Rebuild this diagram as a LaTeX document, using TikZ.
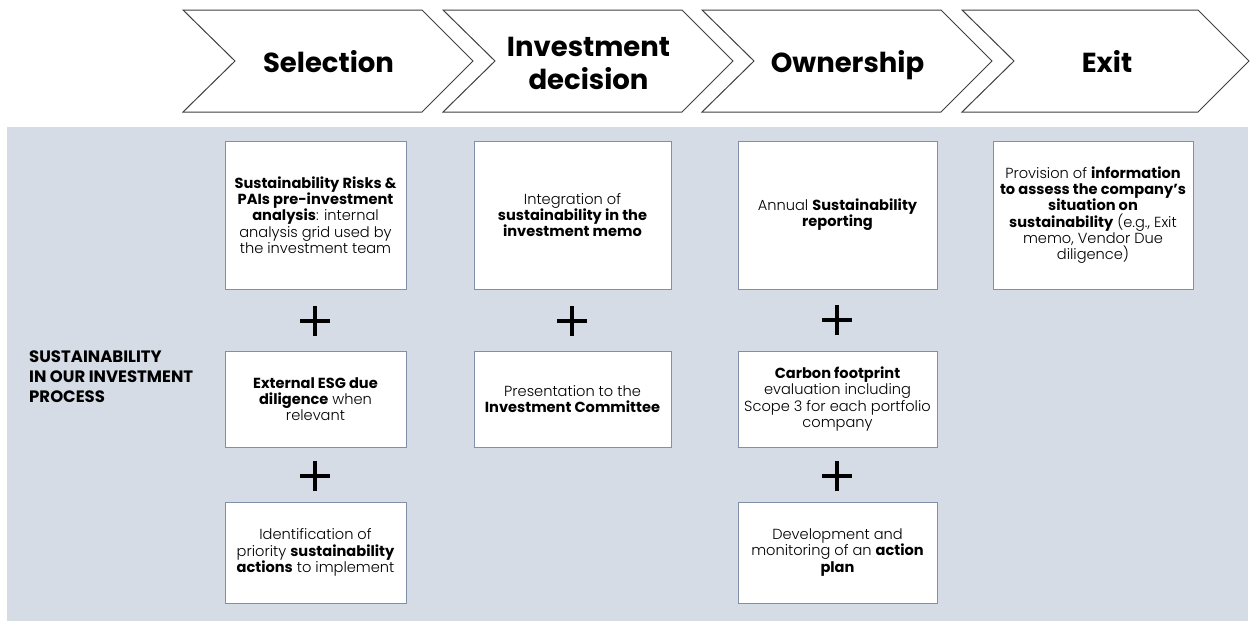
\documentclass[tikz,border=0pt]{standalone}
\usepackage{fontspec}
\setmainfont{Poppins}[UprightFont={* Light}, BoldFont={* Bold}]
\definecolor{panel}{HTML}{D6DCE5}
\definecolor{boxline}{HTML}{8090A8}
\definecolor{chevline}{HTML}{404040}
\begin{document}
\begin{tikzpicture}[x=1pt,y=-1pt,
  chev/.style={draw=chevline, fill=white, line width=1pt, line join=miter},
  ctitle/.style={font=\fontsize{27.5}{33}\selectfont\bfseries, align=center, inner sep=0pt, text depth=0pt},
  box/.style={draw=boxline, fill=white, line width=1pt, inner sep=0pt,
    font=\fontsize{14.6}{16.3}\selectfont, align=center},
  plusline/.style={line width=3.2pt, draw=black},
  sidelabel/.style={font=\fontsize{16.5}{20}\selectfont\bfseries, align=left, inner sep=0pt, anchor=west}
]
\useasboundingbox (0,0) rectangle (1250,621);
\fill[panel] (7,127) rectangle (1248,621);

% chevrons
\draw[chev] (183,10) -- (422,10) -- (473,61) -- (422,112) -- (183,112) -- (235,61) -- cycle;
\draw[chev] (443,10) -- (682,10) -- (733,61) -- (682,112) -- (443,112) -- (495,61) -- cycle;
\draw[chev] (702,10) -- (941,10) -- (992,61) -- (941,112) -- (702,112) -- (754,61) -- cycle;
\draw[chev] (962,10) -- (1198,10) -- (1249,61) -- (1198,112) -- (962,112) -- (1014,61) -- cycle;
\node[ctitle] (t1) at (328.5,61) {Selection};
\node[ctitle] (t2) at (588.5,63) {Investment\\decision};
\node[ctitle] (t3) at (847.5,61) {Ownership};
\node[ctitle] (t4) at (1107,61) {Exit};

% side label
\node[sidelabel] (side) at (29,377) {SUSTAINABILITY\\IN OUR INVESTMENT\\PROCESS};

% column 1
\node[box, minimum width=181pt, minimum height=148pt] (a1) at (315.5,215)
  {\textbf{Sustainability Risks \&}\\\textbf{PAIs pre-investment}\\\textbf{analysis}: internal\\analysis grid used by\\the investment team};
\node[box, minimum width=181pt, minimum height=96pt] (a2) at (315.5,399)
  {\textbf{External ESG due}\\\textbf{diligence} when\\relevant};
\node[box, minimum width=181pt, minimum height=101pt] (a3) at (315.5,552.5)
  {Identification of\\priority \textbf{sustainability}\\\textbf{actions} to implement};

% column 2
\node[box, minimum width=197pt, minimum height=148pt] (b1) at (572.5,215)
  {Integration of\\\textbf{sustainability in the}\\\textbf{investment memo}};
\node[box, minimum width=197pt, minimum height=96pt] (b2) at (572.5,399)
  {Presentation to the\\\textbf{Investment Committee}};

% column 3
\node[box, minimum width=199pt, minimum height=148pt] (c1) at (837.5,215)
  {Annual \textbf{Sustainability}\\\textbf{reporting}};
\node[box, minimum width=199pt, minimum height=96pt] (c2) at (837.5,399)
  {\textbf{Carbon footprint}\\evaluation including\\Scope 3 for each portfolio\\company};
\node[box, minimum width=199pt, minimum height=101pt] (c3) at (837.5,552.5)
  {Development and\\monitoring of an \textbf{action}\\\textbf{plan}};

% column 4
\node[box, minimum width=200pt, minimum height=148pt] (d1) at (1093,215)
  {Provision of \textbf{information}\\\textbf{to assess the company’s}\\\textbf{situation on}\\\textbf{sustainability} (e.g., Exit\\memo, Vendor Due\\diligence)};

% plus signs
\foreach \n/\px/\py in {p1/315/321, p2/315/476, p3/572/321, p4/837/320, p5/837/476}{
  \coordinate (\n) at (\px,\py);
  \draw[plusline] ([xshift=-15pt]\n) -- ([xshift=15pt]\n);
  \draw[plusline] ([yshift=-15pt]\n) -- ([yshift=15pt]\n);
}
\end{tikzpicture}
\end{document}
